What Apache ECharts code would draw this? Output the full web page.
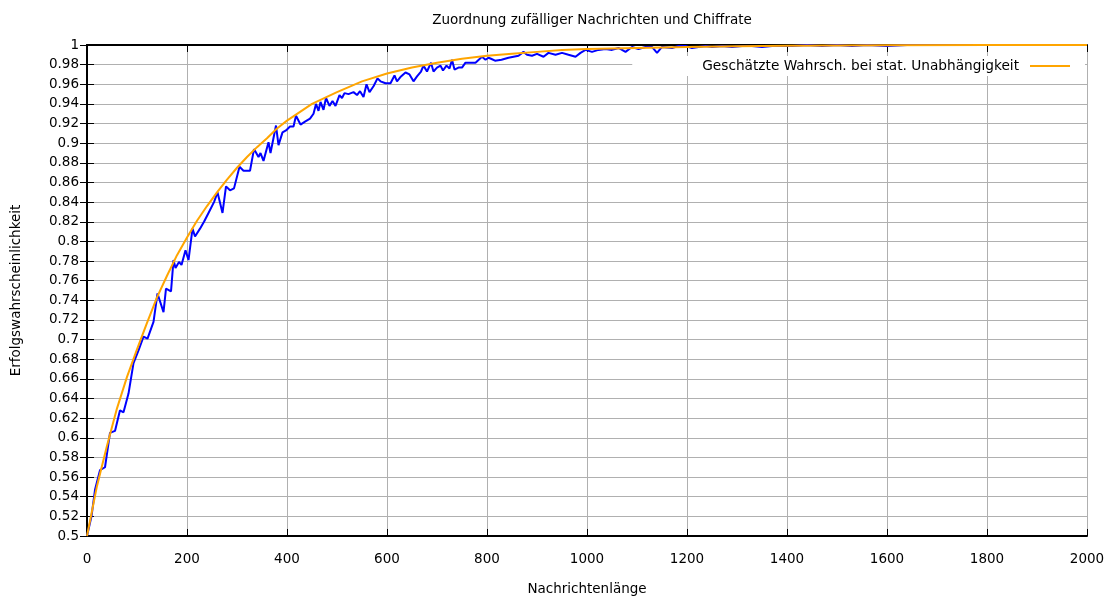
<!DOCTYPE html>
<html>
<head>
<meta charset="utf-8">
<script src="https://cdn.jsdelivr.net/npm/echarts@6/dist/echarts.min.js"></script>
<style>html,body{margin:0;padding:0;background:#fff;}#c{width:1116px;height:597px;}</style>
</head>
<body>
<div id="c"></div>
<script>
const titleText = 'Zuordnung zufälliger Nachrichten und Chiffrate';
const xName = 'Nachrichtenlänge';
const yName = 'Erfolgswahrscheinlichkeit';
const legendName = 'Geschätzte Wahrsch. bei stat. Unabhängigkeit';

// Measured (noisy) success rate: [message length, probability]
const measured = [
[0,0.500],[9,0.520],[16,0.547],[26,0.567],[36,0.570],[46,0.605],[56,0.607],[66,0.628],[73,0.626],[83,0.645],
[93,0.676],[103,0.689],[113,0.703],[121,0.701],[133,0.718],[141,0.747],[153,0.728],[158,0.752],[168,0.749],[173,0.781],
[177,0.773],[184,0.779],[189,0.776],[197,0.791],[203,0.781],[211,0.813],[216,0.805],[226,0.813],[234,0.820],[243,0.829],
[247,0.827],[254,0.840],[261,0.850],[271,0.829],[278,0.856],[286,0.852],[294,0.854],[305,0.876],[313,0.872],[326,0.872],
[334,0.894],[343,0.886],[347,0.890],[353,0.882],[363,0.901],[367,0.890],[378,0.918],[383,0.898],[391,0.911],[398,0.913],
[406,0.917],[413,0.917],[418,0.928],[427,0.919],[436,0.922],[446,0.925],[453,0.930],[458,0.940],[463,0.933],[467,0.942],
[473,0.934],[478,0.946],[485,0.938],[491,0.943],[497,0.938],[505,0.949],[510,0.946],[515,0.951],[523,0.950],[533,0.952],
[540,0.949],[546,0.953],[553,0.947],[559,0.960],[565,0.952],[573,0.958],[581,0.966],[587,0.963],[597,0.961],[607,0.961],
[615,0.969],[620,0.963],[628,0.968],[637,0.972],[645,0.970],[653,0.963],[660,0.968],[668,0.973],[673,0.979],[680,0.973],
[688,0.982],[693,0.973],[700,0.977],[707,0.979],[712,0.974],[719,0.979],[725,0.976],[730,0.985],[735,0.975],[743,0.977],
[750,0.977],[757,0.982],[767,0.982],[777,0.982],[781,0.980],[790,0.988],[797,0.985],[803,0.987],[808,0.986],[816,0.984],
[829,0.985],[843,0.987],[853,0.988],[863,0.989],[873,0.993],[880,0.990],[890,0.989],[900,0.991],[913,0.988],[923,0.992],
[937,0.990],[950,0.992],[963,0.990],[977,0.988],[987,0.992],[997,0.995],[1010,0.993],[1023,0.995],[1037,0.996],[1050,0.995],
[1063,0.997],[1077,0.993],[1090,0.998],[1103,0.996],[1117,0.998],[1130,0.998],[1140,0.992],[1150,0.998],[1170,0.997],[1183,0.999],
[1197,0.999],[1210,0.997],[1223,0.998],[1237,0.999],[1250,0.998],[1270,0.999],[1290,0.998],[1310,0.999],[1330,0.999],[1350,0.998],
[1370,0.999],[1390,0.999],[1410,0.999],[1440,1.0],[1470,0.999],[1500,1.0],[1530,0.999],[1560,1.0],[1600,0.999],[1640,1.0],
[1680,1.0],[1720,1.0],[1760,1.0],[1800,1.0],[1850,1.0],[1900,1.0],[1950,1.0],[2000,1.0]
];

// Estimated probability under statistical independence
const estX = [0,20,40,60,80,100,120,140,160,180,200,220,240,260,280,300,320,340,360,380,400,450,500,550,600,650,700,750,800,850,900,950,1000,1100,1200,1300,1400,1600,1800,2000];
const estY = [0.500,0.551,0.592,0.630,0.662,0.690,0.717,0.743,0.765,0.786,0.804,0.821,0.836,0.850,0.863,0.875,0.886,0.896,0.905,0.915,0.923,0.940,0.952,0.963,0.971,0.977,0.982,0.986,0.989,0.991,0.993,0.995,0.996,0.997,0.998,0.9987,0.9992,0.9997,0.9999,1.0];

const xMin = 0, xMax = 2000, xStep = 200;
const yMin = 0.5, yMax = 1, yStep = 0.02;

const chart = echarts.init(document.getElementById('c'));
const font = 'DejaVu Sans';
const fs = 13.5;
const axisBase = {
  axisLine: {show: true, lineStyle: {color: '#000', width: 2}},
  axisTick: {show: true, inside: true, length: 7, lineStyle: {color: '#000', width: 1}},
};
chart.setOption({
  animation: false,
  backgroundColor: '#fff',
  title: {text: titleText, left: 587, textAlign: 'center', top: 8, textStyle: {fontFamily: font, fontSize: fs, fontWeight: 'normal', color: '#000'}},
  grid: {left: 87, right: 29, top: 45, bottom: 61, containLabel: false, outerBoundsMode: 'none'},
  legend: {
    data: [{name: legendName, icon: 'rect'}],
    right: 31, top: 56, align: 'right', itemWidth: 40, itemHeight: 2,
    backgroundColor: '#fff', padding: [3, 15, 3, 70],
    textStyle: {fontFamily: font, fontSize: 13.7, color: '#000', padding: [0, 6, 0, 0]}
  },
  xAxis: [
    Object.assign({type: 'value', min: xMin, max: xMax, interval: xStep, position: 'bottom',
      name: xName, nameLocation: 'middle', nameGap: 46,
      nameTextStyle: {fontFamily: font, fontSize: fs, color: '#000'},
      axisLabel: {margin: 16, fontFamily: font, fontSize: fs, color: '#000', formatter: v => String(v)},
      splitLine: {show: true, lineStyle: {color: '#b0b0b0', width: 1}}}, axisBase),
    Object.assign({type: 'value', min: xMin, max: xMax, interval: xStep, position: 'top',
      axisLabel: {show: false}, splitLine: {show: false}}, axisBase)
  ],
  yAxis: [
    Object.assign({type: 'value', min: yMin, max: yMax, interval: yStep, position: 'left',
      name: yName, nameLocation: 'middle', nameGap: 64,
      nameTextStyle: {fontFamily: font, fontSize: fs, color: '#000'},
      axisLabel: {margin: 8, fontFamily: font, fontSize: fs, color: '#000', formatter: v => String(+v.toFixed(2))},
      splitLine: {show: true, lineStyle: {color: '#b0b0b0', width: 1}}}, axisBase),
    Object.assign({type: 'value', min: yMin, max: yMax, interval: yStep, position: 'right',
      axisLabel: {show: false}, splitLine: {show: false}}, axisBase)
  ],
  series: [
    {type: 'line', name: 'measured', data: measured, showSymbol: false, symbol: 'none',
      lineStyle: {color: '#0000ff', width: 2}, itemStyle: {color: '#0000ff'}, z: 2},
    {type: 'line', name: legendName, data: estX.map((x, i) => [x, estY[i]]), showSymbol: false, symbol: 'none',
      smooth: false,
      lineStyle: {color: '#ffa500', width: 2}, itemStyle: {color: '#ffa500'}, z: 3}
  ]
});
</script>
</body>
</html>
